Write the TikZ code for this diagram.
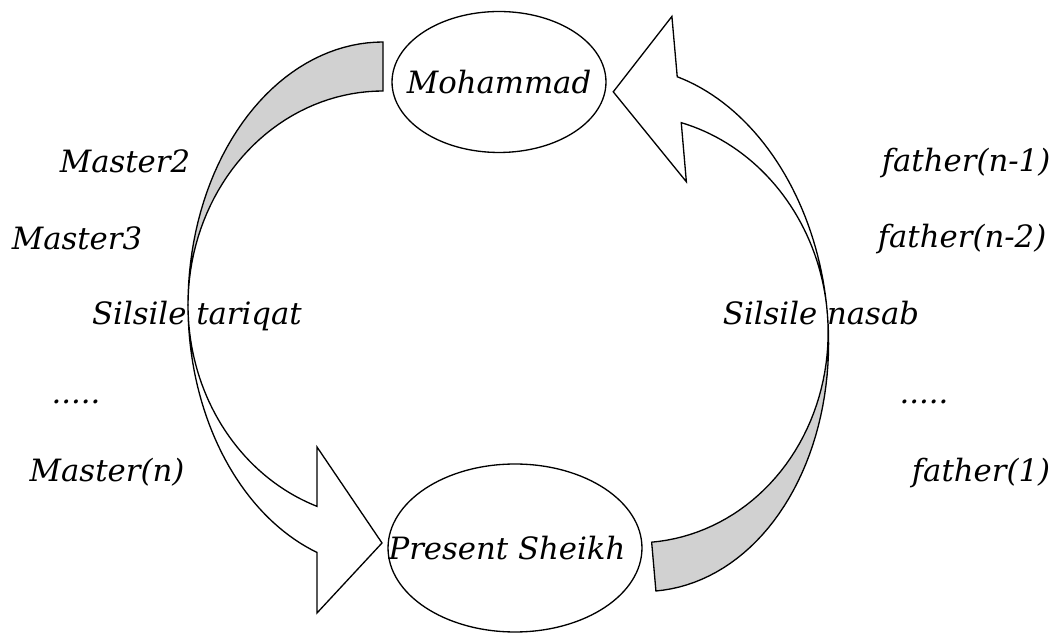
\documentclass[tikz,border=0pt]{standalone}
\usepackage{fontspec}
\setmainfont{DejaVu Serif}
\usetikzlibrary{shapes.geometric}
\begin{document}
\begin{tikzpicture}[x=0.02cm, y=-0.02cm, line width=0.75pt, font=\fontsize{17.5}{20}\selectfont\itshape,
		main/.style = {draw, ellipse, inner sep=0pt},
		txt/.style = {anchor=base},
		curvedarrow/.pic = {
			\filldraw[fill=black!18] plot[domain=270:180, samples=40] ({195*cos(\x)}, {263*sin(\x)}) -- plot[domain=180:270, samples=40] ({195*cos(\x)}, {214*sin(\x)}) -- cycle;
			\filldraw[fill=white] plot[domain=180:109.8, samples=40] ({195*cos(\x)}, {263*sin(\x)}) -- (-66,308) -- (-1,238) -- (-66,142) -- plot[domain=109.8:180, samples=40] ({195*cos(\x)}, {214*sin(\x)}) -- cycle;
		}]
		\useasboundingbox (0,0) rectangle (1059,634);
		\pic at (383,305) {curvedarrow};
		\pic[rotate=185] at (633,329) {curvedarrow};
		\node[main, minimum width=4.28cm, minimum height=2.82cm] (moh) at (499,82) {\makebox[0pt]{\raisebox{-0.06cm}{Mohammad}}};
		\node[main, minimum width=5.08cm, minimum height=3.36cm] (sheikh) at (515,548) {\makebox[0pt]{Present Sheikh\hspace{0.32cm}}};
		\node[txt] (m2) at (125,173) {Master2};
		\node[txt] (m3) at (77,250) {Master3};
		\node[txt] (tariqat) at (197,325) {Silsile tariqat};
		\node[txt] (ldots) at (76,404) {.....};
		\node[txt] (mn) at (107,482) {Master(n)};
		\node[txt] (fn1) at (966,172) {father(n-1)};
		\node[txt] (fn2) at (962,248) {father(n-2)};
		\node[txt] (nasab) at (821,325) {Silsile nasab};
		\node[txt] (rdots) at (924,404) {.....};
		\node[txt] (f1) at (981,482) {father(1)};
\end{tikzpicture}
\end{document}
